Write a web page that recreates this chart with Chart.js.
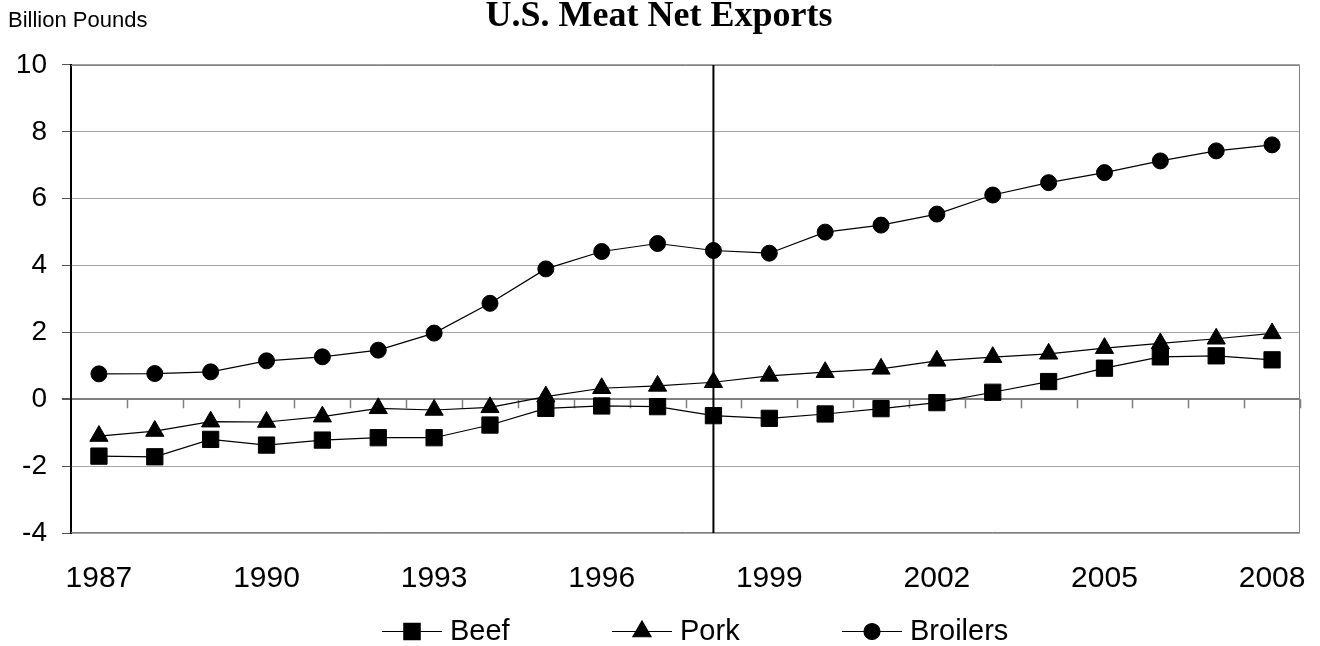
<!DOCTYPE html>
<html>
<head>
<meta charset="utf-8">
<script src="https://cdn.jsdelivr.net/npm/chart.js@4.4.1/dist/chart.umd.min.js"></script>
<style>
  html, body { margin: 0; padding: 0; background: #fff; }
  #wrap { width: 1320px; height: 646px; position: relative; }
</style>
</head>
<body>
<div id="wrap"><canvas id="c"></canvas></div>
<script>
// ---- data ----
const years = ['1987','1988','1989','1990','1991','1992','1993','1994','1995','1996','1997',
               '1998','1999','2000','2001','2002','2003','2004','2005','2006','2007','2008'];
const tickYears = ['1987','1990','1993','1996','1999','2002','2005','2008'];
const beef = [-1.70, -1.72, -1.20, -1.37, -1.22, -1.15, -1.15, -0.77, -0.27, -0.20, -0.22,
              -0.49, -0.57, -0.44, -0.28, -0.10, 0.21, 0.53, 0.93, 1.27, 1.30, 1.18];
const pork = [-1.10, -0.95, -0.67, -0.68, -0.52, -0.27, -0.32, -0.24, 0.08, 0.33, 0.40,
              0.51, 0.70, 0.81, 0.91, 1.15, 1.26, 1.36, 1.53, 1.67, 1.81, 1.97];
const broilers = [0.76, 0.77, 0.82, 1.15, 1.27, 1.47, 1.98, 2.87, 3.90, 4.42, 4.66,
                  4.45, 4.37, 5.00, 5.21, 5.54, 6.11, 6.48, 6.78, 7.13, 7.43, 7.61];
const yMin = -4, yMax = 10, yStep = 2;
const markerYear = '1998';
const titleText = 'U.S. Meat Net Exports';
const unitText = 'Billion Pounds';

const SANS = '"Liberation Sans", Arial, sans-serif';
const SERIF = '"Liberation Serif", "Times New Roman", serif';

const decor = {
  id: 'decor',
  beforeDatasetsDraw(chart) {
    const {ctx, chartArea: a, scales: {x, y}} = chart;
    ctx.save();
    // plot border (top, right, bottom)
    ctx.strokeStyle = '#7f7f7f';
    ctx.lineWidth = 1;
    ctx.beginPath();
    ctx.moveTo(a.left, a.top + 0.5); ctx.lineTo(a.right - 0.5, a.top + 0.5);
    ctx.lineTo(a.right - 0.5, a.bottom - 0.5); ctx.lineTo(a.left, a.bottom - 0.5);
    ctx.stroke();
    // category tick marks along the zero line
    const y0 = y.getPixelForValue(0);
    const half = (x.getPixelForValue(1) - x.getPixelForValue(0)) / 2;
    ctx.strokeStyle = '#7f7f7f';
    ctx.lineWidth = 1.5;
    ctx.beginPath();
    for (let i = 1; i <= years.length; i++) {
      const px = Math.round(x.getPixelForValue(i - 1) + half) + 0.5;
      ctx.moveTo(px, y0);
      ctx.lineTo(px, y0 + 9);
    }
    ctx.stroke();
    // vertical marker line
    const vx = x.getPixelForValue(years.indexOf(markerYear));
    ctx.strokeStyle = '#000';
    ctx.lineWidth = 2;
    ctx.beginPath();
    ctx.moveTo(vx, a.top);
    ctx.lineTo(vx, a.bottom);
    ctx.stroke();
    ctx.restore();
  },
  afterDraw(chart) {
    const {ctx} = chart;
    ctx.save();
    // unit label
    ctx.fillStyle = '#000';
    ctx.font = '22px ' + SANS;
    ctx.textAlign = 'left';
    ctx.textBaseline = 'alphabetic';
    ctx.fillText(unitText, 8, 27);
    // legend: line + marker + label
    const startX = 382, step = 230, lineLen = 60, cy = 631.5;
    chart.data.datasets.forEach((ds, i) => {
      const x0 = startX + i * step;
      ctx.strokeStyle = '#000';
      ctx.lineWidth = 1.2;
      ctx.beginPath();
      ctx.moveTo(x0, cy);
      ctx.lineTo(x0 + lineLen, cy);
      ctx.stroke();
      ctx.fillStyle = '#000';
      Chart.helpers.drawPoint(ctx, {
        pointStyle: ds.pointStyle, radius: ds.pointRadius, rotation: 0, borderWidth: 1
      }, x0 + lineLen / 2, cy);
      ctx.fillStyle = '#000';
      ctx.font = '29px ' + SANS;
      ctx.textAlign = 'left';
      ctx.textBaseline = 'alphabetic';
      ctx.fillText(ds.label, x0 + lineLen + 8, 640);
    });
    ctx.restore();
  }
};

function series(label, data, style, radius) {
  return {
    label, data,
    borderColor: '#000', borderWidth: 1.2,
    backgroundColor: '#000',
    pointStyle: style, pointRadius: radius, pointHoverRadius: radius,
    pointBackgroundColor: '#000', pointBorderColor: '#000', pointBorderWidth: 1,
    tension: 0, fill: false
  };
}

new Chart(document.getElementById('c'), {
  type: 'line',
  data: {
    labels: years,
    datasets: [
      series('Beef', beef, 'rect', 11.5),
      series('Pork', pork, 'triangle', 10.5),
      series('Broilers', broilers, 'circle', 8)
    ]
  },
  options: {
    responsive: true,
    maintainAspectRatio: false,
    animation: false,
    devicePixelRatio: 1,
    layout: { padding: { left: 18, right: 20, top: 0, bottom: 53 } },
    plugins: {
      legend: { display: false },
      tooltip: { enabled: false },
      title: {
        display: true,
        text: titleText,
        color: '#000',
        font: { family: SERIF, size: 36, weight: 'bold', lineHeight: 0.68 },
        padding: { top: 4, bottom: 36.5 }
      }
    },
    scales: {
      x: {
        type: 'category',
        offset: true,
        grid: { display: false, drawTicks: false },
        border: { display: false },
        afterFit(scale) {
          scale.height = 60;
          scale.paddingLeft = 0;
          scale.paddingRight = 0;
        },
        ticks: {
          autoSkip: false, maxRotation: 0, minRotation: 0,
          padding: 28, color: '#000',
          font: { family: SANS, size: 30 },
          callback(value, index) {
            const lab = years[index];
            return tickYears.includes(lab) ? lab : '';
          }
        }
      },
      y: {
        min: yMin, max: yMax,
        afterFit(scale) { scale.width = 53; },
        ticks: {
          stepSize: yStep, padding: 15, color: '#000',
          font: { family: SANS, size: 28 }
        },
        grid: {
          color: (c) => c.tick && c.tick.value === 0 ? '#7f7f7f' : '#a6a6a6',
          lineWidth: (c) => c.tick && c.tick.value === 0 ? 2 : 1,
          tickColor: '#555',
          tickLength: 9,
          drawTicks: true
        },
        border: { display: true, color: '#000', width: 2 }
      }
    }
  },
  plugins: [decor]
});
</script>
</body>
</html>
